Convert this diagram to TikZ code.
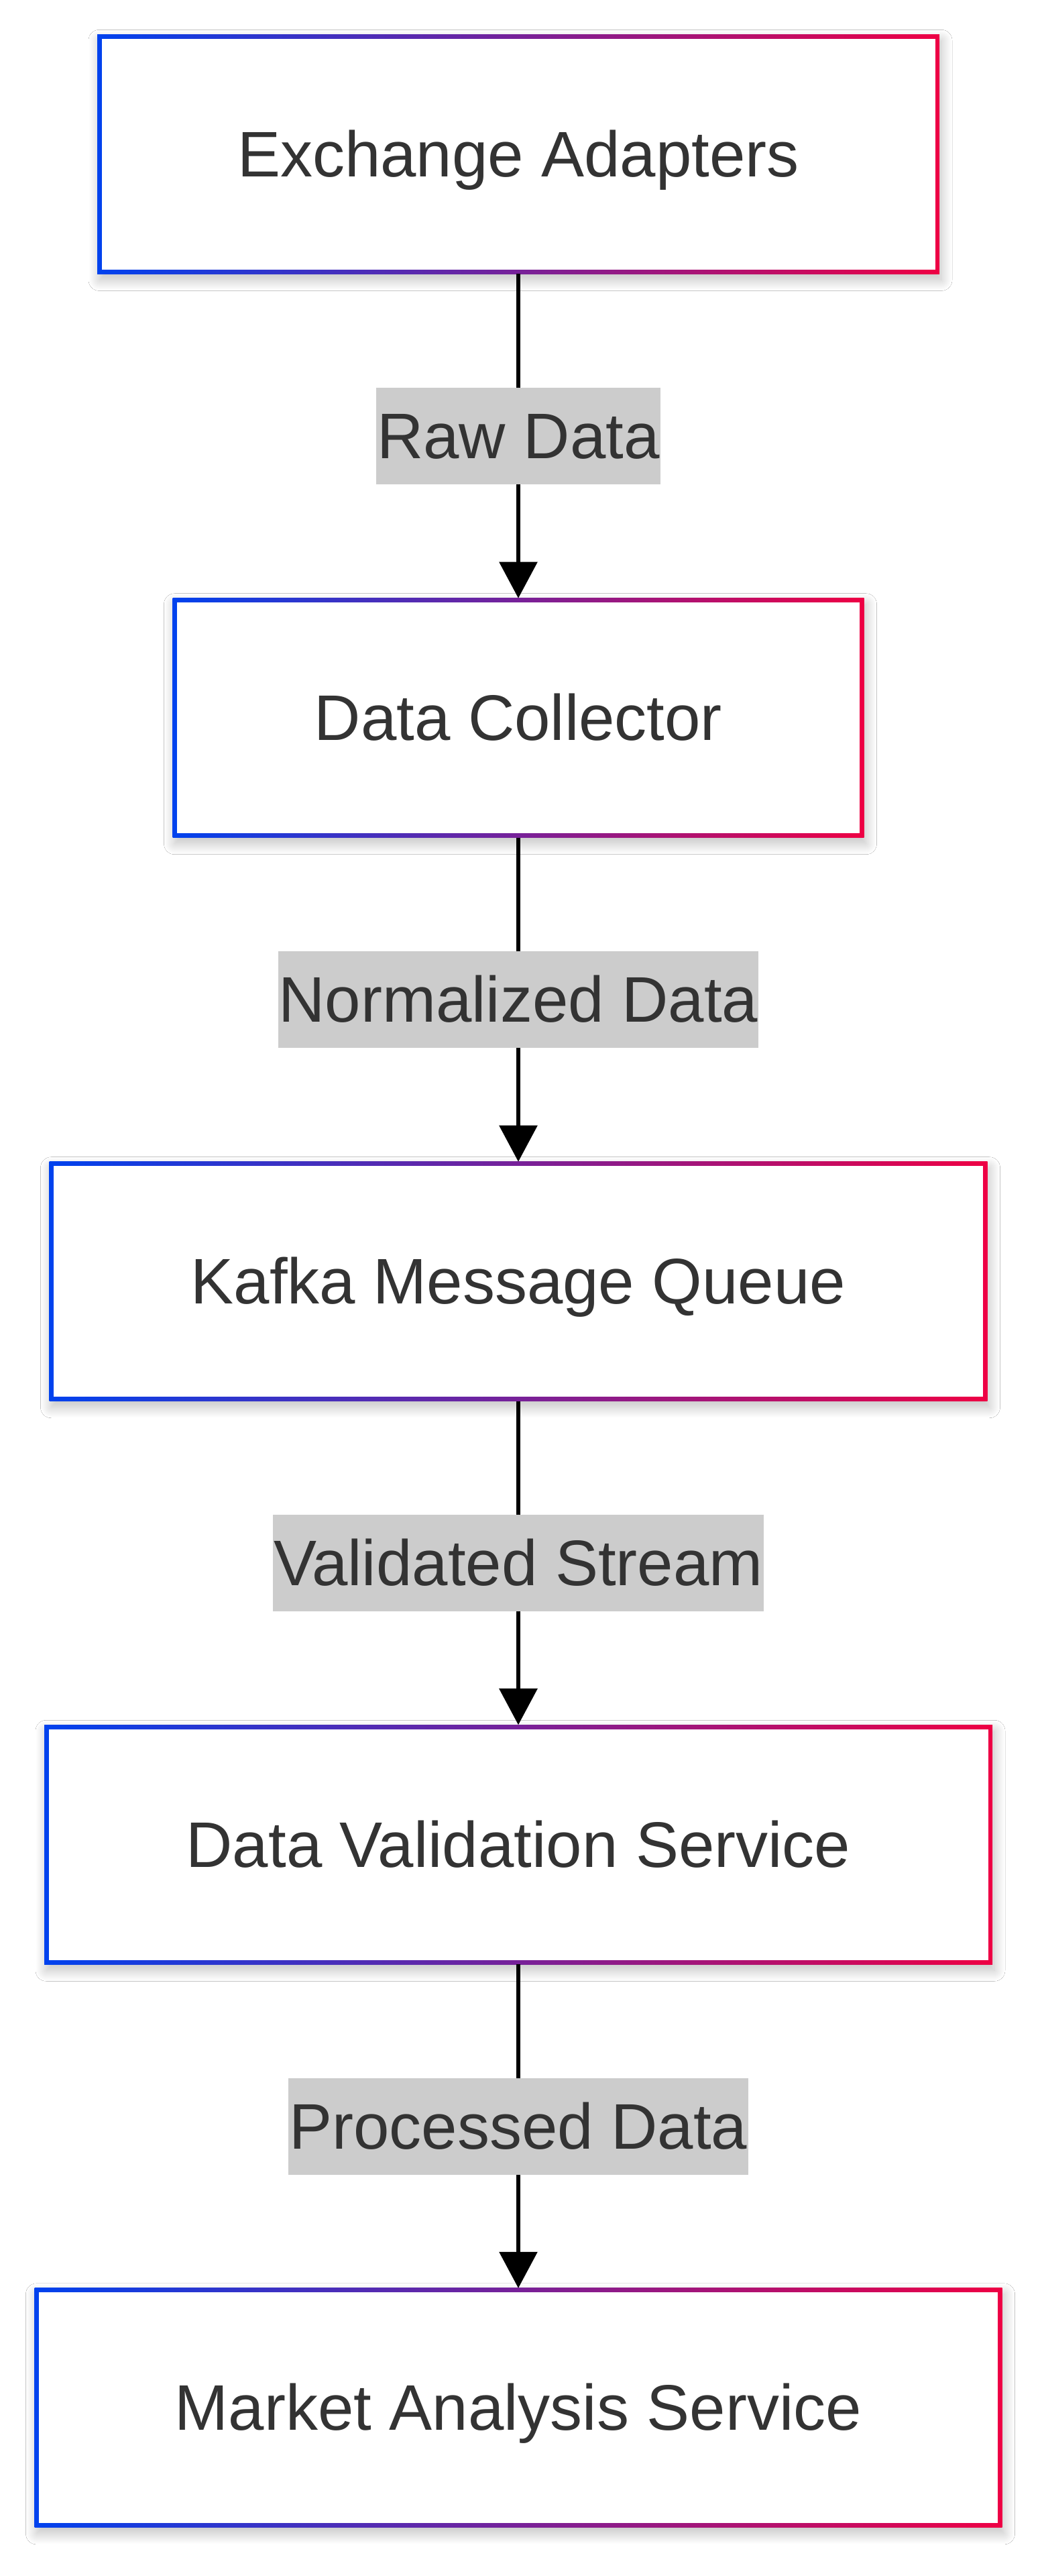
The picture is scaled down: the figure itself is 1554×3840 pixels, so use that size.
\documentclass[tikz,border=0pt]{standalone}
\usepackage{fontspec}
\setmainfont{Liberation Sans}
\usetikzlibrary{arrows.meta,shadows.blur}
\definecolor{gblue}{HTML}{0042EE}
\definecolor{gred}{HTML}{EE0044}
\definecolor{txtgray}{HTML}{333333}
\definecolor{labbg}{HTML}{CCCCCC}
\tikzset{
  flowbox/.style={rectangle, minimum height=357pt, inner sep=0pt, outer sep=0pt,
    left color=gblue, right color=gred, text=txtgray,
    font=\fontsize{96}{144}\selectfont, text height=105.6pt, text depth=38.4pt,
    blur shadow={shadow xshift=3pt, shadow yshift=-9pt, shadow blur radius=16pt,
      shadow blur steps=24, shadow opacity=25},
    path picture={\fill[white] ([shift={(6.5pt,6.5pt)}]path picture bounding box.south west)
      rectangle ([shift={(-6.5pt,-6.5pt)}]path picture bounding box.north east);}},
  flowlabel/.style={rectangle, fill=labbg, text=txtgray, inner xsep=1pt, inner ysep=0pt,
    font=\fontsize{96}{144}\selectfont, text height=105.6pt, text depth=38.4pt},
  conn/.style={line width=6pt, draw=black, -{Triangle[width=56pt,length=54pt]}}
}
\begin{document}
\begin{tikzpicture}[x=1pt,y=1pt]
\fill[white] (0,0) rectangle (1554,-3840);
\useasboundingbox (0,0) rectangle (1554,-3840);
\node[flowbox, minimum width=1256pt] (ea) at (773,-229.9) {Exchange Adapters};
\node[flowbox, minimum width=1031pt] (dc) at (773,-1070.2) {Data Collector};
\node[flowbox, minimum width=1399pt] (kq) at (773,-1910.2) {Kafka Message Queue};
\node[flowbox, minimum width=1414pt] (dv) at (773,-2749.7) {Data Validation Service};
\node[flowbox, minimum width=1443pt] (ma) at (773,-3589.3) {Market Analysis Service};
\draw[conn] (ea.south) -- node[flowlabel] {Raw Data} (dc.north);
\draw[conn] (dc.south) -- node[flowlabel] {Normalized Data} (kq.north);
\draw[conn] (kq.south) -- node[flowlabel] {Validated Stream} (dv.north);
\draw[conn] (dv.south) -- node[flowlabel] {Processed Data} (ma.north);
\end{tikzpicture}
\end{document}
